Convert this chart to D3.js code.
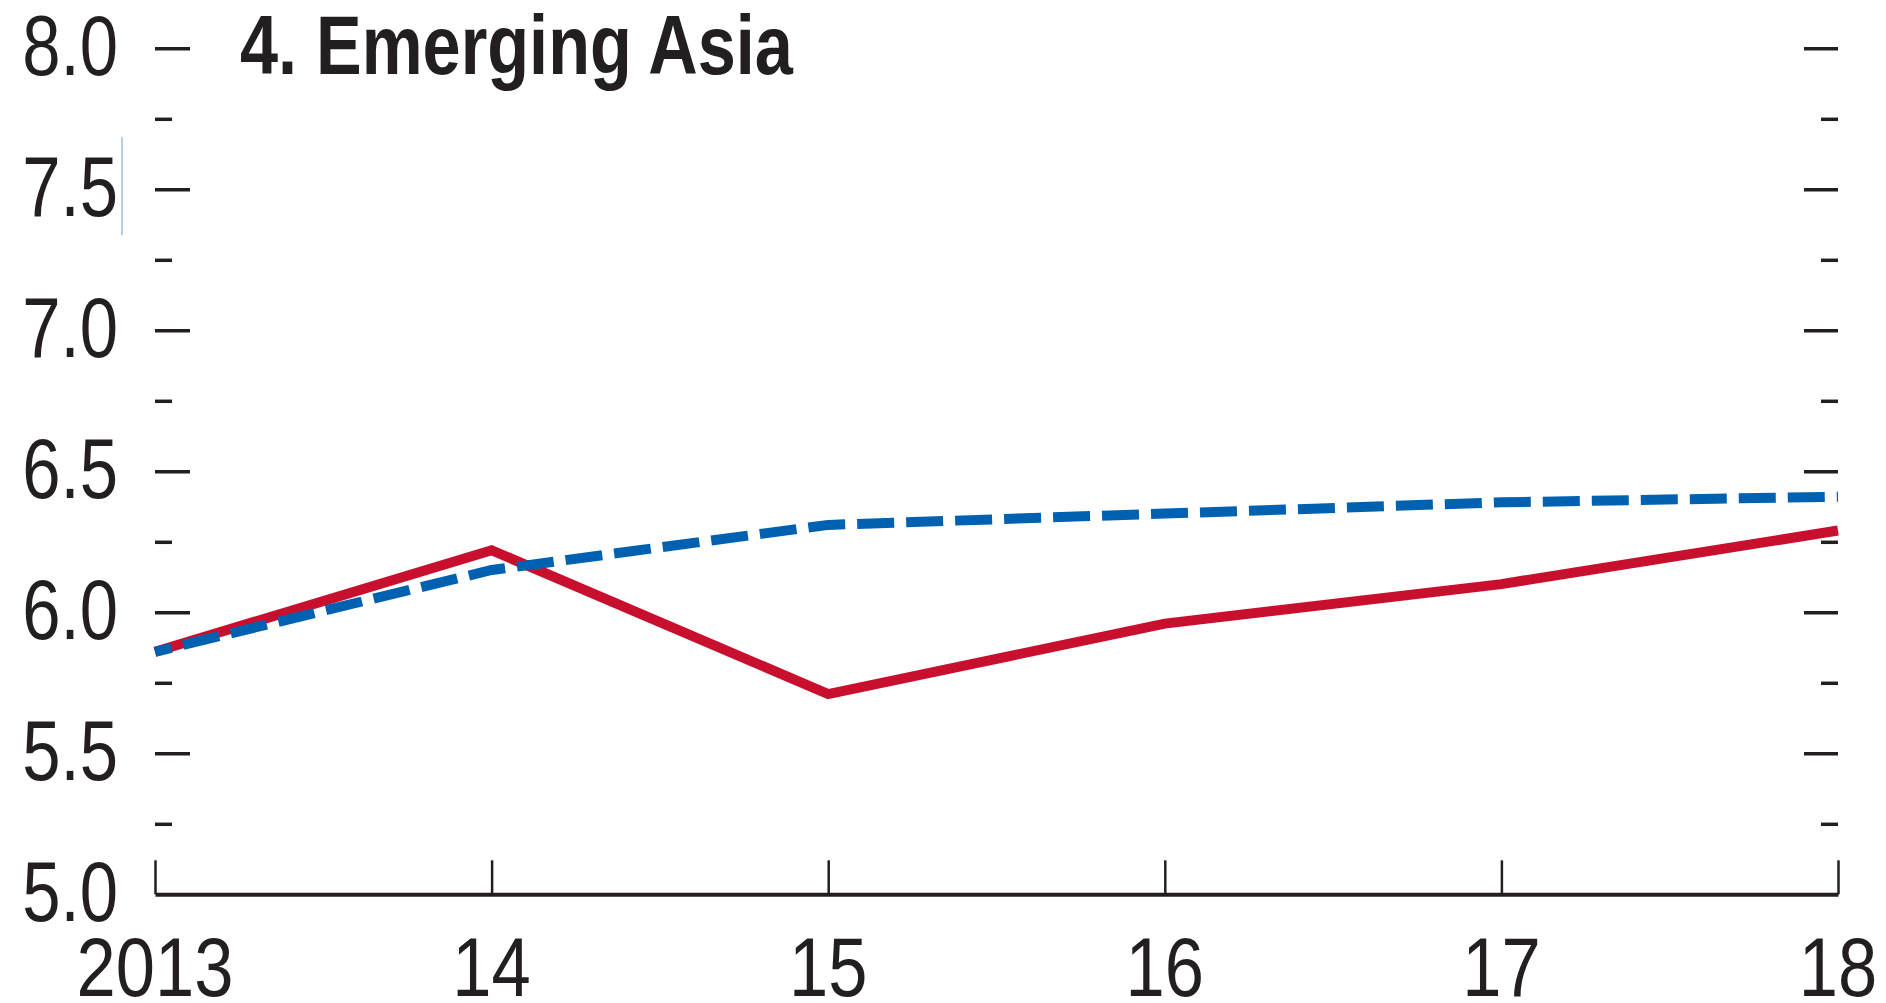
<!DOCTYPE html>
<html>
<head>
<meta charset="utf-8">
<script src="https://cdn.jsdelivr.net/npm/d3@7"></script>
<style>
  html, body { margin: 0; padding: 0; background: #ffffff; }
  svg { display: block; }
  text { font-family: "Liberation Sans", Arial, Helvetica, sans-serif; fill: #231f20; }
</style>
</head>
<body>
<svg id="chart" width="1886" height="1003"></svg>
<script>
// ---- data ----
const years = [2013, 2014, 2015, 2016, 2017, 2018];
const xTickLabels = ["2013", "14", "15", "16", "17", "18"];
const seriesRed = [5.86, 6.22, 5.71, 5.96, 6.10, 6.29];   // solid red
const seriesBlue = [5.86, 6.15, 6.31, 6.35, 6.39, 6.41];  // dashed blue
const yMajorTicks = [5.0, 5.5, 6.0, 6.5, 7.0, 7.5, 8.0];
const yMinorTicks = [5.25, 5.75, 6.25, 6.75, 7.25, 7.75];
const yTickLabels = ["5.0", "5.5", "6.0", "6.5", "7.0", "7.5", "8.0"];
const chartTitle = "4. Emerging Asia";

(function () {
// ---- layout ----
const svg = d3.select("#chart");
const plotLeft = 155, plotRight = 1838, plotTop = 48.3, plotBottom = 894.3;
const ink = "#231f20";
const condense = 0.81;

const x = d3.scaleLinear().domain([years[0], years[years.length - 1]]).range([plotLeft, plotRight]);
const y = d3.scaleLinear().domain([5, 8]).range([plotBottom, plotTop]);

const styleTicks = (g, w) => {
  g.select(".domain").remove();
  g.selectAll(".tick line").attr("stroke", ink).attr("stroke-width", w);
  g.selectAll(".tick text").remove();
};
// left inward ticks
svg.append("g").attr("transform", `translate(${plotLeft},0)`)
  .call(d3.axisRight(y).tickValues(yMajorTicks.filter(v => v > 5)).tickSize(35).tickFormat(""))
  .call(g => styleTicks(g, 3.5));
svg.append("g").attr("transform", `translate(${plotLeft},0)`)
  .call(d3.axisRight(y).tickValues(yMinorTicks).tickSize(17).tickFormat(""))
  .call(g => styleTicks(g, 3.5));
// right inward ticks
svg.append("g").attr("transform", `translate(${plotRight},0)`)
  .call(d3.axisLeft(y).tickValues(yMajorTicks.filter(v => v > 5)).tickSize(34).tickFormat(""))
  .call(g => styleTicks(g, 3.5));
svg.append("g").attr("transform", `translate(${plotRight},0)`)
  .call(d3.axisLeft(y).tickValues(yMinorTicks).tickSize(17).tickFormat(""))
  .call(g => styleTicks(g, 3.5));

// x axis baseline with upward ticks
const xAxisG = svg.append("g").attr("transform", `translate(0,${plotBottom})`)
  .call(d3.axisTop(x).tickValues(years).tickSize(34).tickSizeOuter(0).tickFormat(""));
xAxisG.select(".domain").attr("stroke", ink).attr("stroke-width", 4);
xAxisG.selectAll(".tick line").attr("stroke", ink).attr("stroke-width", 2.5);
xAxisG.selectAll(".tick text").remove();

// y tick labels
svg.append("g").selectAll("g.ylab").data(yMajorTicks).join("g")
  .attr("class", "ylab")
  .attr("transform", d => `translate(118,${y(d) + 26.5}) scale(${condense},1)`)
  .append("text")
  .attr("text-anchor", "end")
  .attr("font-size", 85)
  .text((d, i) => yTickLabels[i]);

// x tick labels
svg.append("g").selectAll("g.xlab").data(years).join("g")
  .attr("class", "xlab")
  .attr("transform", d => `translate(${x(d)},996) scale(0.84,1)`)
  .append("text")
  .attr("text-anchor", "middle")
  .attr("font-size", 84)
  .text((d, i) => xTickLabels[i]);

// title
svg.append("g")
  .attr("transform", `translate(240,73.5) scale(0.815,1)`)
  .append("text")
  .attr("font-size", 84)
  .attr("font-weight", "bold")
  .text(chartTitle);

// small cursor artifact next to 7.5
svg.append("line")
  .attr("x1", 122).attr("x2", 122)
  .attr("y1", y(7.5) - 52).attr("y2", y(7.5) + 46)
  .attr("stroke", "#9cc0de").attr("stroke-width", 1.5);

// series lines
const line = d3.line().x((d, i) => x(years[i])).y(d => y(d));
svg.append("path").datum(seriesRed)
  .attr("d", line)
  .attr("fill", "none")
  .attr("stroke", "#c8102e")
  .attr("stroke-width", 10)
  .attr("stroke-linejoin", "miter");
svg.append("path").datum(seriesBlue)
  .attr("d", line)
  .attr("fill", "none")
  .attr("stroke", "#0061b0")
  .attr("stroke-width", 10)
  .attr("stroke-dasharray", "37,12")
  .attr("stroke-dashoffset", 20);
})();
</script>
</body>
</html>
